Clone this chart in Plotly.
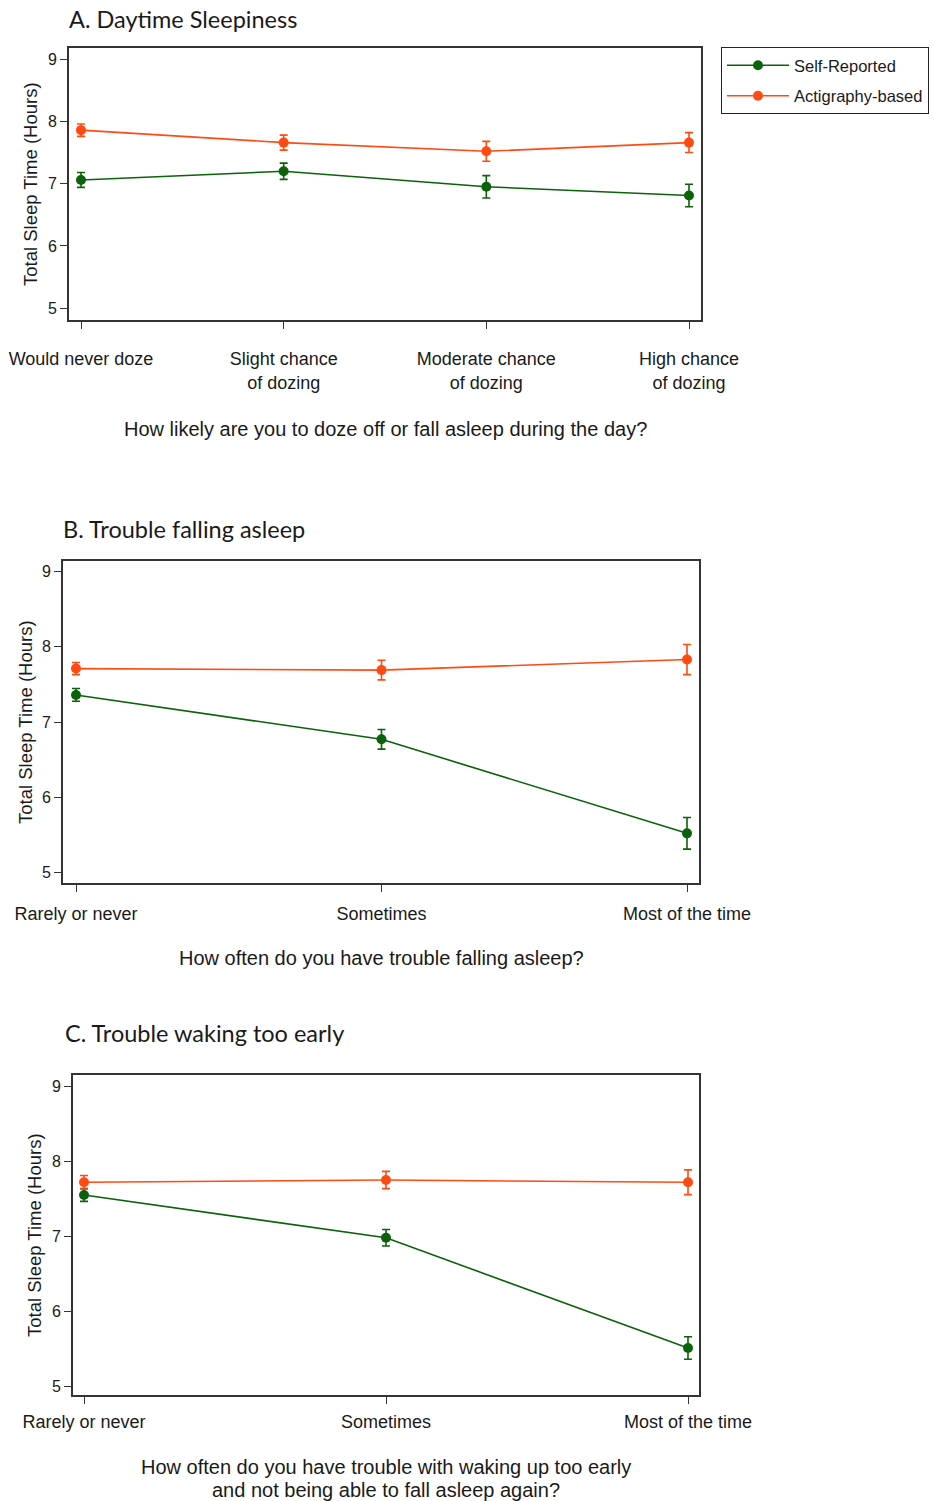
import plotly.graph_objects as go

# ---------------- data ----------------
cats_a = ["Would never doze", "Slight chance<br>of dozing", "Moderate chance<br>of dozing", "High chance<br>of dozing"]
self_a = [7.06, 7.20, 6.95, 6.81]
self_a_err = [0.12, 0.13, 0.18, 0.18]
acti_a = [7.86, 7.66, 7.52, 7.66]
acti_a_err = [0.10, 0.12, 0.16, 0.16]

cats_b = ["Rarely or never", "Sometimes", "Most of the time"]
self_b = [7.36, 6.77, 5.52]
self_b_err = [0.085, 0.13, 0.21]
acti_b = [7.71, 7.69, 7.83]
acti_b_err = [0.08, 0.13, 0.20]

cats_c = ["Rarely or never", "Sometimes", "Most of the time"]
self_c = [7.55, 6.98, 5.51]
self_c_err = [0.085, 0.11, 0.15]
acti_c = [7.72, 7.75, 7.72]
acti_c_err = [0.09, 0.115, 0.165]

yticks = [5, 6, 7, 8, 9]
series_names = ["Self-Reported", "Actigraphy-based"]
titles = ["A. Daytime Sleepiness", "B. Trouble falling asleep", "C. Trouble waking too early"]
xtitles = [["How likely are you to doze off or fall asleep during the day?"],
           ["How often do you have trouble falling asleep?"],
           ["How often do you have trouble with waking up too early",
            "and not being able to fall asleep again?"]]
ytitle = "Total Sleep Time (Hours)"

GREEN = "#0b620b"
ORANGE = "#ff4a12"
W, H = 934, 1501
FONT = "Liberation Sans, Arial, sans-serif"
TFONT = "Lato, Open Sans, sans-serif"

# panel geometry in px: (left, right, top, bottom), yrange
panels = [
    dict(px=(69, 701, 48, 320), yr=(4.81, 9.18), cats=cats_a,
         s=self_a, se=self_a_err, a=acti_a, ae=acti_a_err, standoff=15,
         first=81, last=689, title_xy=(67, 19), xt_y=[429], yt_x=30),
    dict(px=(63, 699, 561, 883), yr=(4.86, 9.14), cats=cats_b,
         s=self_b, se=self_b_err, a=acti_b, ae=acti_b_err, standoff=7,
         first=76, last=687, title_xy=(61, 529), xt_y=[958], yt_x=25),
    dict(px=(73, 699, 1075, 1395), yr=(4.884, 9.15), cats=cats_c,
         s=self_c, se=self_c_err, a=acti_c, ae=acti_c_err, standoff=3,
         first=84, last=688, title_xy=(63, 1033), xt_y=[1467, 1490], yt_x=34),
]

fig = go.Figure()
annotations = []
frame_col = "#333333"

for i, p in enumerate(panels):
    L, R, T, B = p["px"]
    n = len(p["cats"])
    idx = "" if i == 0 else str(i + 1)
    xa, ya = "x" + idx, "y" + idx
    xs = list(range(n))
    for name, vals, errs, col in [
        (series_names[0], p["s"], p["se"], GREEN),
        (series_names[1], p["a"], p["ae"], ORANGE),
    ]:
        fig.add_trace(go.Scatter(
            x=xs, y=vals, mode="lines+markers", name=name,
            line=dict(color=col, width=1.6),
            marker=dict(color=col, size=10),
            error_y=dict(type="data", array=errs, visible=True, color=col,
                         thickness=1.6, width=4),
            xaxis=xa, yaxis=ya, showlegend=(i == 0), legendgroup=name,
        ))
    xdom = [L / W, R / W]
    ydom = [1 - B / H, 1 - T / H]
    unit = (p["last"] - p["first"]) / (n - 1)
    xr = [-(p["first"] - L) / unit, (n - 1) + (R - p["last"]) / unit]
    fig.update_layout(**{
        "xaxis" + idx: dict(
            domain=xdom, range=xr, anchor=ya, automargin=False,
            tickvals=xs, ticktext=p["cats"],
            ticks="outside", ticklen=7, tickwidth=1.3, tickcolor=frame_col,
            showline=True, linecolor=frame_col, linewidth=1.6, mirror=True,
            showgrid=False, zeroline=False,
            tickfont=dict(family=FONT, size=18, color="#1a1a1a"),
            ticklabelstandoff=p["standoff"],
        ),
        "yaxis" + idx: dict(
            domain=ydom, range=list(p["yr"]), anchor=xa, automargin=False,
            tickvals=yticks,
            ticks="outside", ticklen=7, tickwidth=1.3, tickcolor=frame_col,
            showline=True, linecolor=frame_col, linewidth=1.6, mirror=True,
            showgrid=False, zeroline=False,
            tickfont=dict(family=FONT, size=16, color="#1a1a1a"),
        ),
    })
    tx, ty = p["title_xy"]
    annotations.append(dict(
        text=titles[i], x=tx / W, y=1 - ty / H, xref="paper", yref="paper",
        xanchor="left", yanchor="middle", showarrow=False,
        font=dict(family=TFONT, size=23.5, color="#1a1a1a"),
    ))
    for line, ly in zip(xtitles[i], p["xt_y"]):
        annotations.append(dict(
            text=line, x=((L + R) / 2) / W, y=1 - ly / H,
            xref="paper", yref="paper", xanchor="center", yanchor="middle",
            showarrow=False, font=dict(family=FONT, size=20, color="#1a1a1a"),
        ))
    annotations.append(dict(
        text=ytitle, x=p["yt_x"] / W, y=1 - ((T + B) / 2) / H,
        xref="paper", yref="paper", xanchor="center", yanchor="middle",
        textangle=-90, showarrow=False,
        font=dict(family=FONT, size=18.5, color="#1a1a1a"),
    ))

fig.update_layout(
    width=W, height=H,
    margin=dict(l=0, r=0, t=0, b=0, autoexpand=False),
    paper_bgcolor="white", plot_bgcolor="white",
    annotations=annotations,
    showlegend=True,
    legend=dict(
        x=721 / W, y=1 - 47 / H, xanchor="left", yanchor="top",
        bordercolor="#222222", borderwidth=1, bgcolor="white",
        font=dict(family=FONT, size=16.5, color="#1a1a1a"),
        itemwidth=62, tracegroupgap=6,
    ),
)

fig.write_html("out.html", config={"displayModeBar": False},
               post_script="document.body.style.margin='0px';")
